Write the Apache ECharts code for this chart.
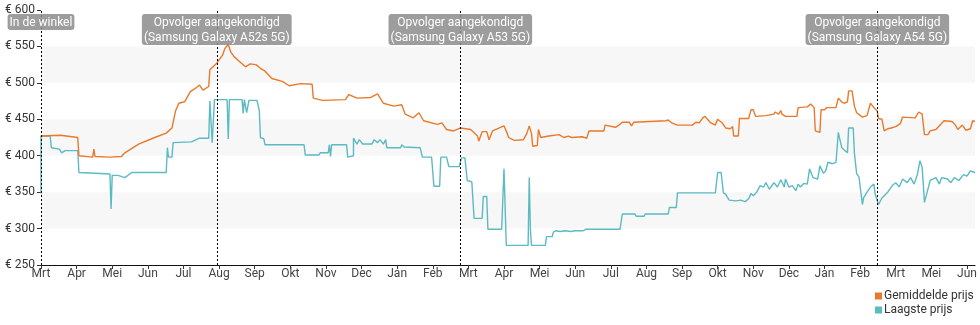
<!DOCTYPE html>
<html>
<head>
<meta charset="utf-8">
<script src="https://cdn.jsdelivr.net/npm/echarts@6/dist/echarts.min.js"></script>
<style>
html,body{margin:0;padding:0;background:#fff;}
#chart{width:980px;height:325px;}
</style>
</head>
<body>
<div id="chart"></div>
<script>
// x values: days since 17 March 2021 (ticks every 31 days, as in the original)
const tickLabels = ['Mrt','Apr','Mei','Jun','Jul','Aug','Sep','Okt','Nov','Dec','Jan','Feb','Mrt','Apr','Mei','Jun','Jul','Aug','Sep','Okt','Nov','Dec','Jan','Feb','Mrt','Mei','Jun'];
const tickStepDays = 31;
const lastDay = 813;

const seriesNames = ['Gemiddelde prijs', 'Laagste prijs'];

const avgDays = [0,17,32,33,45,46,47,60,70,73,85,99,109,114,117,120,125,130,134,138,141,146,147,153,158,160,163,165,168,173,178,182,187,191,195,201,210,216,226,236,237,245,265,268,269,275,287,293,298,307,314,317,324,329,333,345,349,353,359,365,374,380,381,384,388,390,393,403,406,407,412,420,423,425,427,428,432,433,435,442,451,455,459,462,471,475,477,490,491,500,503,506,512,514,516,544,546,549,554,567,570,573,576,578,583,587,589,593,596,600,602,603,607,608,616,618,620,622,631,632,638,639,642,644,645,648,658,659,667,670,673,674,678,679,682,684,692,694,697,699,702,703,706,708,710,715,719,722,725,728,729,732,734,737,740,744,748,750,761,764,767,769,772,774,779,786,793,796,798,802,805,809,811,813];
const avgPrices = [427,428,425,400,398,409,399,398,399,404,416,425,431,438,461,472,474,488,492,497,490,495,518,527,538,547,553,543,536,529,522,526,525,520,516,506,502,496,499,498,479,476,477,484,484,479,480,485,472,468,470,457,452,459,448,443,445,436,434,438,436,427,420,433,433,422,434,441,430,425,421,422,431,441,430,413,414,436,425,427,429,425,427,425,426,424,434,434,442,439,442,446,446,441,446,448,449,445,442,442,446,445,452,454,445,442,450,445,438,437,440,427,427,451,451,463,463,454,455,457,457,460,457,462,457,454,454,466,467,471,466,434,432,463,463,466,466,479,474,472,474,489,489,468,459,453,455,472,466,461,451,450,434,437,438,440,444,453,452,460,457,429,429,434,436,448,447,442,436,442,435,437,448,447];

const lowDays = [0,0,8,9,16,18,21,32,33,47,60,61,62,67,73,79,109,110,111,114,115,131,138,146,147,148,149,151,162,163,164,175,176,177,179,181,188,190,191,194,195,229,230,242,243,250,251,252,253,266,267,272,272,275,277,280,288,290,293,295,298,300,301,313,314,316,330,332,340,342,347,348,353,355,364,366,369,371,375,377,384,385,388,389,401,403,404,405,424,425,426,427,439,440,445,446,448,452,456,461,465,472,474,504,506,517,518,525,526,546,547,553,554,587,589,592,594,596,599,605,609,613,616,618,620,623,626,629,631,634,638,641,644,647,648,651,654,657,659,661,664,667,669,672,676,678,681,683,685,689,692,694,697,702,703,707,708,710,712,715,716,719,722,725,726,729,732,737,741,744,747,750,754,757,760,763,765,767,769,771,774,779,782,784,789,792,795,799,803,806,809,813];
const lowPrices = [348,427,427,411,409,404,407,407,377,376,375,327,373,373,370,377,377,411,398,398,418,419,424,424,475,475,418,477,477,423,477,477,458,477,459,476,476,462,425,423,415,415,401,401,404,404,415,399,415,415,398,400,424,416,422,416,416,422,418,422,416,422,411,411,415,412,411,398,398,358,358,398,398,385,385,397,397,366,364,314,314,344,344,299,299,382,380,277,277,370,298,277,277,289,289,295,297,296,297,296,297,297,299,299,320,320,317,317,320,320,329,329,349,349,377,377,349,347,339,338,339,337,341,348,345,350,359,357,363,354,363,357,367,357,368,357,359,352,361,357,362,361,382,370,368,386,376,379,391,389,391,432,411,404,438,438,404,375,371,333,342,350,357,361,348,333,342,350,359,363,357,368,363,370,361,375,393,384,336,348,366,370,361,370,368,363,370,366,374,372,379,377];

const eventDays = [0, 153, 365, 728];
const eventLabels = ['In de winkel', 'Opvolger aangekondigd\n(Samsung Galaxy A52s 5G)', 'Opvolger aangekondigd\n(Samsung Galaxy A53 5G)', 'Opvolger aangekondigd\n(Samsung Galaxy A54 5G)'];

const yMin = 250, yMax = 600, yStep = 50;

const zip = (xs, ys) => xs.map((x, i) => [x, ys[i]]);
const FONT = 'Roboto, "Open Sans", sans-serif';

const legendBase = {
  left: 875, itemWidth: 7, itemHeight: 7, icon: 'rect', padding: 0,
  textStyle: {fontSize: 12, color: '#333', fontFamily: FONT, padding: [0,0,0,-3]}
};

const chart = echarts.init(document.getElementById('chart'), null, {renderer: 'canvas'});
chart.setOption({
  animation: false,
  backgroundColor: '#ffffff',
  textStyle: {fontFamily: FONT},
  grid: {left: 41, right: 5, top: 10, bottom: 60, containLabel: false},
  legend: [
    Object.assign({}, legendBase, {top: 290, data: [seriesNames[0]]}),
    Object.assign({}, legendBase, {top: 304, data: [seriesNames[1]]})
  ],
  xAxis: {
    type: 'value', min: 0, max: lastDay, interval: tickStepDays,
    axisLine: {show: true, lineStyle: {color: '#111', width: 1}},
    axisTick: {show: true, length: 4, lineStyle: {color: '#333'}},
    axisLabel: {
      margin: 3, fontSize: 12, color: '#444', fontFamily: FONT, showMaxLabel: false,
      formatter: v => (v % tickStepDays === 0) ? (tickLabels[v / tickStepDays] || '') : ''
    },
    splitLine: {show: false}
  },
  yAxis: {
    type: 'value', min: yMin, max: yMax, interval: yStep,
    axisLine: {show: false},
    axisTick: {show: true, length: 4, lineStyle: {color: '#333'}},
    axisLabel: {margin: 6, fontSize: 12, color: '#333', fontFamily: FONT, formatter: '€ {value}'},
    splitLine: {show: false},
    splitArea: {show: true, areaStyle: {color: ['rgba(255,255,255,0)', '#f7f7f7']}}
  },
  series: [
    {
      name: seriesNames[0], type: 'line', showSymbol: false, symbol: 'none',
      data: zip(avgDays, avgPrices),
      lineStyle: {color: '#e9792b', width: 1.4}, itemStyle: {color: '#e9792b'},
      z: 3,
      markLine: {
        silent: true, symbol: ['none','none'],
        lineStyle: {color: '#000', type: [2, 2], width: 1},
        label: {show: false},
        data: eventDays.map(d => ({xAxis: d}))
      },
      markPoint: {
        silent: true, symbol: 'rect', symbolSize: 0,
        label: {
          show: true, position: 'bottom', distance: 4,
          color: '#fff', fontSize: 12, lineHeight: 15, fontFamily: FONT,
          backgroundColor: 'rgba(140,140,140,0.85)', borderRadius: 3, padding: [1, 2, 0, 2]
        },
        data: eventDays.map((d, i) => ({coord: [d, yMax], value: eventLabels[i], label: {formatter: eventLabels[i]}}))
      }
    },
    {
      name: seriesNames[1], type: 'line', showSymbol: false, symbol: 'none',
      data: zip(lowDays, lowPrices),
      lineStyle: {color: '#5cbac2', width: 1.4}, itemStyle: {color: '#5cbac2'},
      z: 2
    }
  ]
});
</script>
</body>
</html>
